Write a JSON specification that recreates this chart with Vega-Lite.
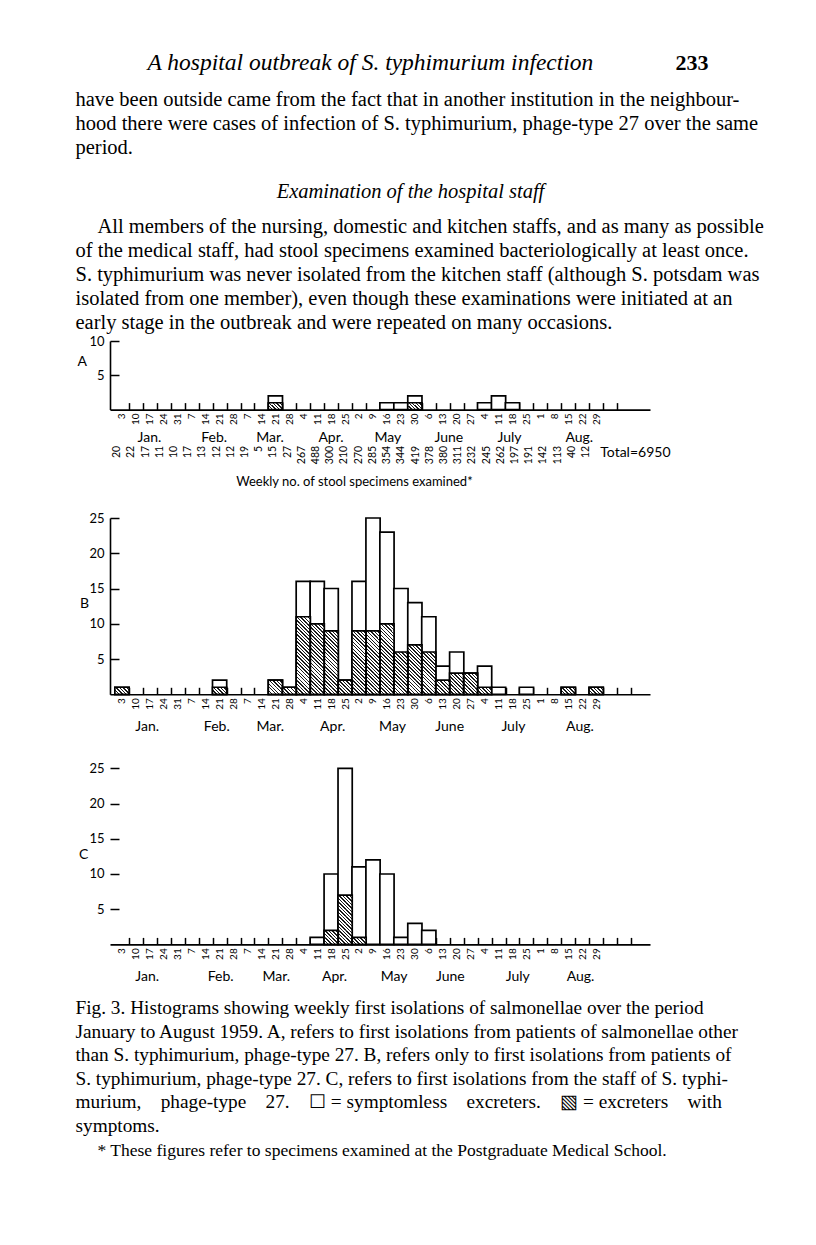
{
"$schema": "https://vega.github.io/schema/vega-lite/v6.json",
"background": "white",
"padding": {"left": 75, "top": 38, "right": 10, "bottom": 10},
"bounds": "flush",
"spacing": 0,
"resolve": {"scale": {"x": "independent", "y": "independent"}},
"config": {
  "view": {"stroke": null},
  "axis": {"labelFont": "Lato", "labelColor": "black", "tickColor": "black", "domainColor": "black", "tickWidth": 1.5, "domainWidth": 1.6, "grid": false, "labelFlush": false, "labelOverlap": false, "titleFont": "Lato", "titleColor": "black", "titleFontWeight": "normal"}
},
"vconcat": [
  {"width": 540, "height": 50,
   "data": {"values": [{"running_head": "A hospital outbreak of S. typhimurium infection", "page": "233"}]},
   "layer": [
     {"mark": {"type": "text", "align": "left", "baseline": "middle", "font": "Liberation Serif", "fontSize": 23.5, "fontStyle": "italic"},
      "encoding": {"x": {"datum": 0.1075, "type": "quantitative", "scale": {"domain": [0, 1], "range": [-34.5, 635.5]}, "axis": null}, "text": {"field": "running_head"}}},
     {"mark": {"type": "text", "align": "right", "baseline": "middle", "font": "Liberation Serif", "fontSize": 22, "fontWeight": "bold"},
      "encoding": {"x": {"datum": 0.9448, "type": "quantitative", "scale": {"domain": [0, 1], "range": [-34.5, 635.5]}, "axis": null}, "text": {"field": "page"}}}
   ]},
  {"width": 540, "height": 72,
   "data": {"values": [
     {"line": 1, "text": "have been outside came from the fact that in another institution in the neighbour-"},
     {"line": 2, "text": "hood there were cases of infection of S. typhimurium, phage-type 27 over the same"},
     {"line": 3, "text": "period."}]},
   "mark": {"type": "text", "align": "left", "baseline": "middle", "font": "Liberation Serif", "fontSize": 20.5},
   "encoding": {"x": {"datum": 0, "type": "quantitative", "scale": {"domain": [0, 1], "range": [-34.5, 635.5]}, "axis": null},
     "y": {"field": "line", "type": "ordinal", "scale": {"type": "point", "padding": 0.5}, "axis": null},
     "text": {"field": "text"}}},
  {"width": 540, "height": 55,
   "data": {"values": [{"text": "Examination of the hospital staff"}]},
   "mark": {"type": "text", "align": "center", "baseline": "middle", "font": "Liberation Serif", "fontSize": 20.5, "fontStyle": "italic"},
   "encoding": {"x": {"datum": 0.5, "type": "quantitative", "scale": {"domain": [0, 1], "range": [-34.5, 635.5]}, "axis": null},
     "y": {"datum": "h", "type": "ordinal", "scale": {"type": "point", "align": 0.582}, "axis": null},
     "text": {"field": "text"}}},
  {"width": 540, "height": 125.7,
   "data": {"values": [
     {"line": 1, "indent": 1, "text": "All members of the nursing, domestic and kitchen staffs, and as many as possible"},
     {"line": 2, "indent": 0, "text": "of the medical staff, had stool specimens examined bacteriologically at least once."},
     {"line": 3, "indent": 0, "text": "S. typhimurium was never isolated from the kitchen staff (although S. potsdam was"},
     {"line": 4, "indent": 0, "text": "isolated from one member), even though these examinations were initiated at an"},
     {"line": 5, "indent": 0, "text": "early stage in the outbreak and were repeated on many occasions."}]},
   "mark": {"type": "text", "align": "left", "baseline": "middle", "font": "Liberation Serif", "fontSize": 20.5},
   "encoding": {"x": {"field": "indent", "type": "quantitative", "scale": {"domain": [0, 1], "range": [-34.5, -12.5]}, "axis": null},
     "y": {"field": "line", "type": "ordinal", "scale": {"type": "point", "padding": 0.619, "align": 0.404}, "axis": null},
     "text": {"field": "text"}}},
  {"width": 540, "height": 68.6,
   "data": {"values": [
     {"week": "Mar 21", "wk": 12, "total": 2, "hatched": 1},
     {"week": "May 16", "wk": 20, "total": 1, "hatched": 0},
     {"week": "May 23", "wk": 21, "total": 1, "hatched": 0},
     {"week": "May 30", "wk": 22, "total": 2, "hatched": 1},
     {"week": "Jul 4", "wk": 27, "total": 1, "hatched": 0},
     {"week": "Jul 11", "wk": 28, "total": 2, "hatched": 0},
     {"week": "Jul 18", "wk": 29, "total": 1, "hatched": 0}]},
   "encoding": {"x": {"field": "wk", "type": "quantitative", "scale": {"domain": [0.5, 38.5], "nice": false, "zero": false}, "axis": null}},
   "layer": [
     {"mark": {"type": "bar", "orient": "vertical", "width": 14.21, "fill": "white", "stroke": "black", "strokeWidth": 1.7},
      "encoding": {
        "x": {"field": "wk", "type": "quantitative", "scale": {"domain": [0.5, 38.5], "nice": false, "zero": false},
          "axis": {"orient": "bottom", "values": [1.5,2.5,3.5,4.5,5.5,6.5,7.5,8.5,9.5,10.5,11.5,12.5,13.5,14.5,15.5,16.5,17.5,18.5,19.5,20.5,21.5,22.5,23.5,24.5,25.5,26.5,27.5,28.5,29.5,30.5,31.5,32.5,33.5,34.5,35.5,36.5],
            "labelExpr": "datum.value < 36 ? '' + date(datetime(1959, 0, 3 + 7 * (datum.value - 1.5))) : ''",
            "labelAngle": 270, "labelAlign": "right", "labelBaseline": "middle", "labelOffset": -7.105, "tickSize": -7, "labelPadding": 10.4, "labelFontSize": 10, "title": null}},
        "y": {"field": "total", "type": "quantitative", "scale": {"domain": [0, 10], "nice": false},
          "axis": {"values": [5, 10], "tickSize": -9, "labelPadding": 15, "labelFontSize": 13, "title": "A", "titleAngle": 0, "titleX": -33, "titleY": 20.3, "titleAlign": "left", "titleBaseline": "middle", "titleFontSize": 14}},
        "y2": {"datum": 0}}},
     {"transform": [{"filter": "datum.hatched >= 1"}], "mark": {"type": "bar", "orient": "vertical", "width": 14.21, "fill": {"gradient": "linear", "x1": 0, "y1": 1, "x2": 1.2007, "y2": 0.4051, "stops": [{"offset": 0, "color": "#1a1a1a"}, {"offset": 0.066, "color": "#1a1a1a"}, {"offset": 0.066, "color": "#ffffff"}, {"offset": 0.1657, "color": "#ffffff"}, {"offset": 0.1657, "color": "#1a1a1a"}, {"offset": 0.2317, "color": "#1a1a1a"}, {"offset": 0.2317, "color": "#ffffff"}, {"offset": 0.3313, "color": "#ffffff"}, {"offset": 0.3313, "color": "#1a1a1a"}, {"offset": 0.3973, "color": "#1a1a1a"}, {"offset": 0.3973, "color": "#ffffff"}, {"offset": 0.497, "color": "#ffffff"}, {"offset": 0.497, "color": "#1a1a1a"}, {"offset": 0.563, "color": "#1a1a1a"}, {"offset": 0.563, "color": "#ffffff"}, {"offset": 0.6626, "color": "#ffffff"}, {"offset": 0.6626, "color": "#1a1a1a"}, {"offset": 0.7286, "color": "#1a1a1a"}, {"offset": 0.7286, "color": "#ffffff"}, {"offset": 0.8283, "color": "#ffffff"}, {"offset": 0.8283, "color": "#1a1a1a"}, {"offset": 0.8943, "color": "#1a1a1a"}, {"offset": 0.8943, "color": "#ffffff"}, {"offset": 0.9939, "color": "#ffffff"}, {"offset": 0.9939, "color": "#1a1a1a"}, {"offset": 1, "color": "#1a1a1a"}]}}, "encoding": {"y": {"datum": 0}, "y2": {"datum": 1}}},
     {"transform": [{"filter": "datum.hatched > 0"}],
      "mark": {"type": "bar", "orient": "vertical", "width": 14.21, "filled": false, "stroke": "black", "strokeWidth": 1.7},
      "encoding": {
        "x": {"field": "wk", "type": "quantitative", "scale": {"domain": [0.5, 38.5], "nice": false, "zero": false},
          "axis": {"orient": "bottom", "values": [2.93, 7.57, 11.58, 15.95, 20.03, 24.4, 28.75, 33.75],
            "labelExpr": "datum.value < 5 ? 'Jan.' : datum.value < 10 ? 'Feb.' : datum.value < 14 ? 'Mar.' : datum.value < 18.5 ? 'Apr.' : datum.value < 22.5 ? 'May' : datum.value < 27 ? 'June' : datum.value < 31.5 ? 'July' : 'Aug.'",
            "ticks": false, "tickSize": 0, "domain": false, "labelPadding": 27.4, "labelAngle": 0, "labelAlign": "center", "labelBaseline": "middle", "labelFontSize": 14, "title": null}},
        "y": {"field": "hatched", "type": "quantitative"},
        "y2": {"datum": 0}}}
   ],
   "resolve": {"axis": {"x": "independent"}}},
  {"width": 540, "height": 107.7,
   "layer": [
     {"data": {"values": [
        {"wk": 1, "specimens": 20}, {"wk": 2, "specimens": 22}, {"wk": 3, "specimens": 17}, {"wk": 4, "specimens": 11},
        {"wk": 5, "specimens": 10}, {"wk": 6, "specimens": 17}, {"wk": 7, "specimens": 13}, {"wk": 8, "specimens": 12},
        {"wk": 9, "specimens": 12}, {"wk": 10, "specimens": 19}, {"wk": 11, "specimens": 5}, {"wk": 12, "specimens": 15},
        {"wk": 13, "specimens": 27}, {"wk": 14, "specimens": 267}, {"wk": 15, "specimens": 488}, {"wk": 16, "specimens": 300},
        {"wk": 17, "specimens": 210}, {"wk": 18, "specimens": 270}, {"wk": 19, "specimens": 285}, {"wk": 20, "specimens": 354},
        {"wk": 21, "specimens": 344}, {"wk": 22, "specimens": 419}, {"wk": 23, "specimens": 378}, {"wk": 24, "specimens": 380},
        {"wk": 25, "specimens": 311}, {"wk": 26, "specimens": 232}, {"wk": 27, "specimens": 245}, {"wk": 28, "specimens": 262},
        {"wk": 29, "specimens": 197}, {"wk": 30, "specimens": 191}, {"wk": 31, "specimens": 142}, {"wk": 32, "specimens": 113},
        {"wk": 33, "specimens": 40}, {"wk": 34, "specimens": 12}]},
      "mark": {"type": "text", "angle": 270, "align": "right", "baseline": "middle", "font": "Lato", "fontSize": 10.5},
      "encoding": {"x": {"field": "wk", "type": "quantitative", "scale": {"domain": [0.5, 38.5], "nice": false, "zero": false}, "axis": null},
        "y": {"datum": "numbers", "type": "ordinal", "scale": {"type": "point", "domain": ["numbers", "label"], "padding": 1, "align": 0.5}, "axis": null},
        "text": {"field": "specimens"}}},
     {"data": {"values": [{"text": "Total=6950"}]},
      "mark": {"type": "text", "align": "left", "baseline": "top", "font": "Lato", "fontSize": 14},
      "encoding": {"x": {"datum": 35, "type": "quantitative", "scale": {"domain": [0.5, 38.5], "nice": false, "zero": false}, "axis": null},
        "y": {"datum": "numbers", "type": "ordinal", "scale": {"type": "point", "domain": ["numbers", "label"], "padding": 1, "align": 0.5}, "axis": null},
        "text": {"field": "text"}}},
     {"data": {"values": [{"text": "Weekly no. of stool specimens examined*"}]},
      "mark": {"type": "text", "align": "center", "baseline": "middle", "font": "Lato", "fontSize": 13},
      "encoding": {"x": {"datum": 17.7, "type": "quantitative", "scale": {"domain": [0.5, 38.5], "nice": false, "zero": false}, "axis": null},
        "y": {"datum": "label", "type": "ordinal", "scale": {"type": "point", "domain": ["numbers", "label"], "padding": 1, "align": 0.5}, "axis": null},
        "text": {"field": "text"}}}
   ]},
  {"width": 540, "height": 176.3,
   "data": {"values": [
     {"week": "Jan 3", "wk": 1, "total": 1, "hatched": 1},
     {"week": "Feb 21", "wk": 8, "total": 2, "hatched": 1},
     {"week": "Mar 21", "wk": 12, "total": 2, "hatched": 2},
     {"week": "Mar 28", "wk": 13, "total": 1, "hatched": 1},
     {"week": "Apr 4", "wk": 14, "total": 16, "hatched": 11},
     {"week": "Apr 11", "wk": 15, "total": 16, "hatched": 10},
     {"week": "Apr 18", "wk": 16, "total": 15, "hatched": 9},
     {"week": "Apr 25", "wk": 17, "total": 2, "hatched": 2},
     {"week": "May 2", "wk": 18, "total": 16, "hatched": 9},
     {"week": "May 9", "wk": 19, "total": 25, "hatched": 9},
     {"week": "May 16", "wk": 20, "total": 23, "hatched": 10},
     {"week": "May 23", "wk": 21, "total": 15, "hatched": 6},
     {"week": "May 30", "wk": 22, "total": 13, "hatched": 7},
     {"week": "Jun 6", "wk": 23, "total": 11, "hatched": 6},
     {"week": "Jun 13", "wk": 24, "total": 4, "hatched": 2},
     {"week": "Jun 20", "wk": 25, "total": 6, "hatched": 3},
     {"week": "Jun 27", "wk": 26, "total": 3, "hatched": 3},
     {"week": "Jul 4", "wk": 27, "total": 4, "hatched": 1},
     {"week": "Jul 11", "wk": 28, "total": 1, "hatched": 0},
     {"week": "Jul 25", "wk": 30, "total": 1, "hatched": 0},
     {"week": "Aug 15", "wk": 33, "total": 1, "hatched": 1},
     {"week": "Aug 29", "wk": 35, "total": 1, "hatched": 1}]},
   "encoding": {"x": {"field": "wk", "type": "quantitative", "scale": {"domain": [0.5, 38.5], "nice": false, "zero": false}, "axis": null}},
   "layer": [
     {"mark": {"type": "bar", "orient": "vertical", "width": 14.21, "fill": "white", "stroke": "black", "strokeWidth": 1.7},
      "encoding": {
        "x": {"field": "wk", "type": "quantitative", "scale": {"domain": [0.5, 38.5], "nice": false, "zero": false},
          "axis": {"orient": "bottom", "values": [1.5,2.5,3.5,4.5,5.5,6.5,7.5,8.5,9.5,10.5,11.5,12.5,13.5,14.5,15.5,16.5,17.5,18.5,19.5,20.5,21.5,22.5,23.5,24.5,25.5,26.5,27.5,28.5,29.5,30.5,31.5,32.5,33.5,34.5,35.5,36.5,37.5],
            "labelExpr": "datum.value < 36 ? '' + date(datetime(1959, 0, 3 + 7 * (datum.value - 1.5))) : ''",
            "labelAngle": 270, "labelAlign": "right", "labelBaseline": "middle", "labelOffset": -7.105, "tickSize": -7, "labelPadding": 10.4, "labelFontSize": 10, "title": null}},
        "y": {"field": "total", "type": "quantitative", "scale": {"domain": [0, 25], "nice": false},
          "axis": {"values": [5, 10, 15, 20, 25], "tickSize": -9, "labelPadding": 15, "labelFontSize": 13, "title": "B", "titleAngle": 0, "titleX": -30.5, "titleY": 85, "titleAlign": "left", "titleBaseline": "middle", "titleFontSize": 14}},
        "y2": {"datum": 0}}},
     {"transform": [{"filter": "datum.hatched >= 1"}], "mark": {"type": "bar", "orient": "vertical", "width": 14.21, "fill": {"gradient": "linear", "x1": 0, "y1": 1, "x2": 1.2007, "y2": 0.4051, "stops": [{"offset": 0, "color": "#1a1a1a"}, {"offset": 0.066, "color": "#1a1a1a"}, {"offset": 0.066, "color": "#ffffff"}, {"offset": 0.1657, "color": "#ffffff"}, {"offset": 0.1657, "color": "#1a1a1a"}, {"offset": 0.2317, "color": "#1a1a1a"}, {"offset": 0.2317, "color": "#ffffff"}, {"offset": 0.3313, "color": "#ffffff"}, {"offset": 0.3313, "color": "#1a1a1a"}, {"offset": 0.3973, "color": "#1a1a1a"}, {"offset": 0.3973, "color": "#ffffff"}, {"offset": 0.497, "color": "#ffffff"}, {"offset": 0.497, "color": "#1a1a1a"}, {"offset": 0.563, "color": "#1a1a1a"}, {"offset": 0.563, "color": "#ffffff"}, {"offset": 0.6626, "color": "#ffffff"}, {"offset": 0.6626, "color": "#1a1a1a"}, {"offset": 0.7286, "color": "#1a1a1a"}, {"offset": 0.7286, "color": "#ffffff"}, {"offset": 0.8283, "color": "#ffffff"}, {"offset": 0.8283, "color": "#1a1a1a"}, {"offset": 0.8943, "color": "#1a1a1a"}, {"offset": 0.8943, "color": "#ffffff"}, {"offset": 0.9939, "color": "#ffffff"}, {"offset": 0.9939, "color": "#1a1a1a"}, {"offset": 1, "color": "#1a1a1a"}]}}, "encoding": {"y": {"datum": 0}, "y2": {"datum": 1}}},
     {"transform": [{"filter": "datum.hatched >= 2"}], "mark": {"type": "bar", "orient": "vertical", "width": 14.21, "fill": {"gradient": "linear", "x1": 0, "y1": 1, "x2": 1.2007, "y2": 0.4051, "stops": [{"offset": 0, "color": "#1a1a1a"}, {"offset": 0.066, "color": "#1a1a1a"}, {"offset": 0.066, "color": "#ffffff"}, {"offset": 0.1657, "color": "#ffffff"}, {"offset": 0.1657, "color": "#1a1a1a"}, {"offset": 0.2317, "color": "#1a1a1a"}, {"offset": 0.2317, "color": "#ffffff"}, {"offset": 0.3313, "color": "#ffffff"}, {"offset": 0.3313, "color": "#1a1a1a"}, {"offset": 0.3973, "color": "#1a1a1a"}, {"offset": 0.3973, "color": "#ffffff"}, {"offset": 0.497, "color": "#ffffff"}, {"offset": 0.497, "color": "#1a1a1a"}, {"offset": 0.563, "color": "#1a1a1a"}, {"offset": 0.563, "color": "#ffffff"}, {"offset": 0.6626, "color": "#ffffff"}, {"offset": 0.6626, "color": "#1a1a1a"}, {"offset": 0.7286, "color": "#1a1a1a"}, {"offset": 0.7286, "color": "#ffffff"}, {"offset": 0.8283, "color": "#ffffff"}, {"offset": 0.8283, "color": "#1a1a1a"}, {"offset": 0.8943, "color": "#1a1a1a"}, {"offset": 0.8943, "color": "#ffffff"}, {"offset": 0.9939, "color": "#ffffff"}, {"offset": 0.9939, "color": "#1a1a1a"}, {"offset": 1, "color": "#1a1a1a"}]}}, "encoding": {"y": {"datum": 1}, "y2": {"datum": 2}}},
     {"transform": [{"filter": "datum.hatched >= 3"}], "mark": {"type": "bar", "orient": "vertical", "width": 14.21, "fill": {"gradient": "linear", "x1": 0, "y1": 1, "x2": 1.2007, "y2": 0.4051, "stops": [{"offset": 0, "color": "#1a1a1a"}, {"offset": 0.066, "color": "#1a1a1a"}, {"offset": 0.066, "color": "#ffffff"}, {"offset": 0.1657, "color": "#ffffff"}, {"offset": 0.1657, "color": "#1a1a1a"}, {"offset": 0.2317, "color": "#1a1a1a"}, {"offset": 0.2317, "color": "#ffffff"}, {"offset": 0.3313, "color": "#ffffff"}, {"offset": 0.3313, "color": "#1a1a1a"}, {"offset": 0.3973, "color": "#1a1a1a"}, {"offset": 0.3973, "color": "#ffffff"}, {"offset": 0.497, "color": "#ffffff"}, {"offset": 0.497, "color": "#1a1a1a"}, {"offset": 0.563, "color": "#1a1a1a"}, {"offset": 0.563, "color": "#ffffff"}, {"offset": 0.6626, "color": "#ffffff"}, {"offset": 0.6626, "color": "#1a1a1a"}, {"offset": 0.7286, "color": "#1a1a1a"}, {"offset": 0.7286, "color": "#ffffff"}, {"offset": 0.8283, "color": "#ffffff"}, {"offset": 0.8283, "color": "#1a1a1a"}, {"offset": 0.8943, "color": "#1a1a1a"}, {"offset": 0.8943, "color": "#ffffff"}, {"offset": 0.9939, "color": "#ffffff"}, {"offset": 0.9939, "color": "#1a1a1a"}, {"offset": 1, "color": "#1a1a1a"}]}}, "encoding": {"y": {"datum": 2}, "y2": {"datum": 3}}},
     {"transform": [{"filter": "datum.hatched >= 4"}], "mark": {"type": "bar", "orient": "vertical", "width": 14.21, "fill": {"gradient": "linear", "x1": 0, "y1": 1, "x2": 1.2007, "y2": 0.4051, "stops": [{"offset": 0, "color": "#1a1a1a"}, {"offset": 0.066, "color": "#1a1a1a"}, {"offset": 0.066, "color": "#ffffff"}, {"offset": 0.1657, "color": "#ffffff"}, {"offset": 0.1657, "color": "#1a1a1a"}, {"offset": 0.2317, "color": "#1a1a1a"}, {"offset": 0.2317, "color": "#ffffff"}, {"offset": 0.3313, "color": "#ffffff"}, {"offset": 0.3313, "color": "#1a1a1a"}, {"offset": 0.3973, "color": "#1a1a1a"}, {"offset": 0.3973, "color": "#ffffff"}, {"offset": 0.497, "color": "#ffffff"}, {"offset": 0.497, "color": "#1a1a1a"}, {"offset": 0.563, "color": "#1a1a1a"}, {"offset": 0.563, "color": "#ffffff"}, {"offset": 0.6626, "color": "#ffffff"}, {"offset": 0.6626, "color": "#1a1a1a"}, {"offset": 0.7286, "color": "#1a1a1a"}, {"offset": 0.7286, "color": "#ffffff"}, {"offset": 0.8283, "color": "#ffffff"}, {"offset": 0.8283, "color": "#1a1a1a"}, {"offset": 0.8943, "color": "#1a1a1a"}, {"offset": 0.8943, "color": "#ffffff"}, {"offset": 0.9939, "color": "#ffffff"}, {"offset": 0.9939, "color": "#1a1a1a"}, {"offset": 1, "color": "#1a1a1a"}]}}, "encoding": {"y": {"datum": 3}, "y2": {"datum": 4}}},
     {"transform": [{"filter": "datum.hatched >= 5"}], "mark": {"type": "bar", "orient": "vertical", "width": 14.21, "fill": {"gradient": "linear", "x1": 0, "y1": 1, "x2": 1.2007, "y2": 0.4051, "stops": [{"offset": 0, "color": "#1a1a1a"}, {"offset": 0.066, "color": "#1a1a1a"}, {"offset": 0.066, "color": "#ffffff"}, {"offset": 0.1657, "color": "#ffffff"}, {"offset": 0.1657, "color": "#1a1a1a"}, {"offset": 0.2317, "color": "#1a1a1a"}, {"offset": 0.2317, "color": "#ffffff"}, {"offset": 0.3313, "color": "#ffffff"}, {"offset": 0.3313, "color": "#1a1a1a"}, {"offset": 0.3973, "color": "#1a1a1a"}, {"offset": 0.3973, "color": "#ffffff"}, {"offset": 0.497, "color": "#ffffff"}, {"offset": 0.497, "color": "#1a1a1a"}, {"offset": 0.563, "color": "#1a1a1a"}, {"offset": 0.563, "color": "#ffffff"}, {"offset": 0.6626, "color": "#ffffff"}, {"offset": 0.6626, "color": "#1a1a1a"}, {"offset": 0.7286, "color": "#1a1a1a"}, {"offset": 0.7286, "color": "#ffffff"}, {"offset": 0.8283, "color": "#ffffff"}, {"offset": 0.8283, "color": "#1a1a1a"}, {"offset": 0.8943, "color": "#1a1a1a"}, {"offset": 0.8943, "color": "#ffffff"}, {"offset": 0.9939, "color": "#ffffff"}, {"offset": 0.9939, "color": "#1a1a1a"}, {"offset": 1, "color": "#1a1a1a"}]}}, "encoding": {"y": {"datum": 4}, "y2": {"datum": 5}}},
     {"transform": [{"filter": "datum.hatched >= 6"}], "mark": {"type": "bar", "orient": "vertical", "width": 14.21, "fill": {"gradient": "linear", "x1": 0, "y1": 1, "x2": 1.2007, "y2": 0.4051, "stops": [{"offset": 0, "color": "#1a1a1a"}, {"offset": 0.066, "color": "#1a1a1a"}, {"offset": 0.066, "color": "#ffffff"}, {"offset": 0.1657, "color": "#ffffff"}, {"offset": 0.1657, "color": "#1a1a1a"}, {"offset": 0.2317, "color": "#1a1a1a"}, {"offset": 0.2317, "color": "#ffffff"}, {"offset": 0.3313, "color": "#ffffff"}, {"offset": 0.3313, "color": "#1a1a1a"}, {"offset": 0.3973, "color": "#1a1a1a"}, {"offset": 0.3973, "color": "#ffffff"}, {"offset": 0.497, "color": "#ffffff"}, {"offset": 0.497, "color": "#1a1a1a"}, {"offset": 0.563, "color": "#1a1a1a"}, {"offset": 0.563, "color": "#ffffff"}, {"offset": 0.6626, "color": "#ffffff"}, {"offset": 0.6626, "color": "#1a1a1a"}, {"offset": 0.7286, "color": "#1a1a1a"}, {"offset": 0.7286, "color": "#ffffff"}, {"offset": 0.8283, "color": "#ffffff"}, {"offset": 0.8283, "color": "#1a1a1a"}, {"offset": 0.8943, "color": "#1a1a1a"}, {"offset": 0.8943, "color": "#ffffff"}, {"offset": 0.9939, "color": "#ffffff"}, {"offset": 0.9939, "color": "#1a1a1a"}, {"offset": 1, "color": "#1a1a1a"}]}}, "encoding": {"y": {"datum": 5}, "y2": {"datum": 6}}},
     {"transform": [{"filter": "datum.hatched >= 7"}], "mark": {"type": "bar", "orient": "vertical", "width": 14.21, "fill": {"gradient": "linear", "x1": 0, "y1": 1, "x2": 1.2007, "y2": 0.4051, "stops": [{"offset": 0, "color": "#1a1a1a"}, {"offset": 0.066, "color": "#1a1a1a"}, {"offset": 0.066, "color": "#ffffff"}, {"offset": 0.1657, "color": "#ffffff"}, {"offset": 0.1657, "color": "#1a1a1a"}, {"offset": 0.2317, "color": "#1a1a1a"}, {"offset": 0.2317, "color": "#ffffff"}, {"offset": 0.3313, "color": "#ffffff"}, {"offset": 0.3313, "color": "#1a1a1a"}, {"offset": 0.3973, "color": "#1a1a1a"}, {"offset": 0.3973, "color": "#ffffff"}, {"offset": 0.497, "color": "#ffffff"}, {"offset": 0.497, "color": "#1a1a1a"}, {"offset": 0.563, "color": "#1a1a1a"}, {"offset": 0.563, "color": "#ffffff"}, {"offset": 0.6626, "color": "#ffffff"}, {"offset": 0.6626, "color": "#1a1a1a"}, {"offset": 0.7286, "color": "#1a1a1a"}, {"offset": 0.7286, "color": "#ffffff"}, {"offset": 0.8283, "color": "#ffffff"}, {"offset": 0.8283, "color": "#1a1a1a"}, {"offset": 0.8943, "color": "#1a1a1a"}, {"offset": 0.8943, "color": "#ffffff"}, {"offset": 0.9939, "color": "#ffffff"}, {"offset": 0.9939, "color": "#1a1a1a"}, {"offset": 1, "color": "#1a1a1a"}]}}, "encoding": {"y": {"datum": 6}, "y2": {"datum": 7}}},
     {"transform": [{"filter": "datum.hatched >= 8"}], "mark": {"type": "bar", "orient": "vertical", "width": 14.21, "fill": {"gradient": "linear", "x1": 0, "y1": 1, "x2": 1.2007, "y2": 0.4051, "stops": [{"offset": 0, "color": "#1a1a1a"}, {"offset": 0.066, "color": "#1a1a1a"}, {"offset": 0.066, "color": "#ffffff"}, {"offset": 0.1657, "color": "#ffffff"}, {"offset": 0.1657, "color": "#1a1a1a"}, {"offset": 0.2317, "color": "#1a1a1a"}, {"offset": 0.2317, "color": "#ffffff"}, {"offset": 0.3313, "color": "#ffffff"}, {"offset": 0.3313, "color": "#1a1a1a"}, {"offset": 0.3973, "color": "#1a1a1a"}, {"offset": 0.3973, "color": "#ffffff"}, {"offset": 0.497, "color": "#ffffff"}, {"offset": 0.497, "color": "#1a1a1a"}, {"offset": 0.563, "color": "#1a1a1a"}, {"offset": 0.563, "color": "#ffffff"}, {"offset": 0.6626, "color": "#ffffff"}, {"offset": 0.6626, "color": "#1a1a1a"}, {"offset": 0.7286, "color": "#1a1a1a"}, {"offset": 0.7286, "color": "#ffffff"}, {"offset": 0.8283, "color": "#ffffff"}, {"offset": 0.8283, "color": "#1a1a1a"}, {"offset": 0.8943, "color": "#1a1a1a"}, {"offset": 0.8943, "color": "#ffffff"}, {"offset": 0.9939, "color": "#ffffff"}, {"offset": 0.9939, "color": "#1a1a1a"}, {"offset": 1, "color": "#1a1a1a"}]}}, "encoding": {"y": {"datum": 7}, "y2": {"datum": 8}}},
     {"transform": [{"filter": "datum.hatched >= 9"}], "mark": {"type": "bar", "orient": "vertical", "width": 14.21, "fill": {"gradient": "linear", "x1": 0, "y1": 1, "x2": 1.2007, "y2": 0.4051, "stops": [{"offset": 0, "color": "#1a1a1a"}, {"offset": 0.066, "color": "#1a1a1a"}, {"offset": 0.066, "color": "#ffffff"}, {"offset": 0.1657, "color": "#ffffff"}, {"offset": 0.1657, "color": "#1a1a1a"}, {"offset": 0.2317, "color": "#1a1a1a"}, {"offset": 0.2317, "color": "#ffffff"}, {"offset": 0.3313, "color": "#ffffff"}, {"offset": 0.3313, "color": "#1a1a1a"}, {"offset": 0.3973, "color": "#1a1a1a"}, {"offset": 0.3973, "color": "#ffffff"}, {"offset": 0.497, "color": "#ffffff"}, {"offset": 0.497, "color": "#1a1a1a"}, {"offset": 0.563, "color": "#1a1a1a"}, {"offset": 0.563, "color": "#ffffff"}, {"offset": 0.6626, "color": "#ffffff"}, {"offset": 0.6626, "color": "#1a1a1a"}, {"offset": 0.7286, "color": "#1a1a1a"}, {"offset": 0.7286, "color": "#ffffff"}, {"offset": 0.8283, "color": "#ffffff"}, {"offset": 0.8283, "color": "#1a1a1a"}, {"offset": 0.8943, "color": "#1a1a1a"}, {"offset": 0.8943, "color": "#ffffff"}, {"offset": 0.9939, "color": "#ffffff"}, {"offset": 0.9939, "color": "#1a1a1a"}, {"offset": 1, "color": "#1a1a1a"}]}}, "encoding": {"y": {"datum": 8}, "y2": {"datum": 9}}},
     {"transform": [{"filter": "datum.hatched >= 10"}], "mark": {"type": "bar", "orient": "vertical", "width": 14.21, "fill": {"gradient": "linear", "x1": 0, "y1": 1, "x2": 1.2007, "y2": 0.4051, "stops": [{"offset": 0, "color": "#1a1a1a"}, {"offset": 0.066, "color": "#1a1a1a"}, {"offset": 0.066, "color": "#ffffff"}, {"offset": 0.1657, "color": "#ffffff"}, {"offset": 0.1657, "color": "#1a1a1a"}, {"offset": 0.2317, "color": "#1a1a1a"}, {"offset": 0.2317, "color": "#ffffff"}, {"offset": 0.3313, "color": "#ffffff"}, {"offset": 0.3313, "color": "#1a1a1a"}, {"offset": 0.3973, "color": "#1a1a1a"}, {"offset": 0.3973, "color": "#ffffff"}, {"offset": 0.497, "color": "#ffffff"}, {"offset": 0.497, "color": "#1a1a1a"}, {"offset": 0.563, "color": "#1a1a1a"}, {"offset": 0.563, "color": "#ffffff"}, {"offset": 0.6626, "color": "#ffffff"}, {"offset": 0.6626, "color": "#1a1a1a"}, {"offset": 0.7286, "color": "#1a1a1a"}, {"offset": 0.7286, "color": "#ffffff"}, {"offset": 0.8283, "color": "#ffffff"}, {"offset": 0.8283, "color": "#1a1a1a"}, {"offset": 0.8943, "color": "#1a1a1a"}, {"offset": 0.8943, "color": "#ffffff"}, {"offset": 0.9939, "color": "#ffffff"}, {"offset": 0.9939, "color": "#1a1a1a"}, {"offset": 1, "color": "#1a1a1a"}]}}, "encoding": {"y": {"datum": 9}, "y2": {"datum": 10}}},
     {"transform": [{"filter": "datum.hatched >= 11"}], "mark": {"type": "bar", "orient": "vertical", "width": 14.21, "fill": {"gradient": "linear", "x1": 0, "y1": 1, "x2": 1.2007, "y2": 0.4051, "stops": [{"offset": 0, "color": "#1a1a1a"}, {"offset": 0.066, "color": "#1a1a1a"}, {"offset": 0.066, "color": "#ffffff"}, {"offset": 0.1657, "color": "#ffffff"}, {"offset": 0.1657, "color": "#1a1a1a"}, {"offset": 0.2317, "color": "#1a1a1a"}, {"offset": 0.2317, "color": "#ffffff"}, {"offset": 0.3313, "color": "#ffffff"}, {"offset": 0.3313, "color": "#1a1a1a"}, {"offset": 0.3973, "color": "#1a1a1a"}, {"offset": 0.3973, "color": "#ffffff"}, {"offset": 0.497, "color": "#ffffff"}, {"offset": 0.497, "color": "#1a1a1a"}, {"offset": 0.563, "color": "#1a1a1a"}, {"offset": 0.563, "color": "#ffffff"}, {"offset": 0.6626, "color": "#ffffff"}, {"offset": 0.6626, "color": "#1a1a1a"}, {"offset": 0.7286, "color": "#1a1a1a"}, {"offset": 0.7286, "color": "#ffffff"}, {"offset": 0.8283, "color": "#ffffff"}, {"offset": 0.8283, "color": "#1a1a1a"}, {"offset": 0.8943, "color": "#1a1a1a"}, {"offset": 0.8943, "color": "#ffffff"}, {"offset": 0.9939, "color": "#ffffff"}, {"offset": 0.9939, "color": "#1a1a1a"}, {"offset": 1, "color": "#1a1a1a"}]}}, "encoding": {"y": {"datum": 10}, "y2": {"datum": 11}}},
     {"transform": [{"filter": "datum.hatched > 0"}],
      "mark": {"type": "bar", "orient": "vertical", "width": 14.21, "filled": false, "stroke": "black", "strokeWidth": 1.7},
      "encoding": {
        "x": {"field": "wk", "type": "quantitative", "scale": {"domain": [0.5, 38.5], "nice": false, "zero": false},
          "axis": {"orient": "bottom", "values": [2.77, 7.76, 11.6, 16.07, 20.36, 24.46, 29.03, 33.8],
            "labelExpr": "datum.value < 5 ? 'Jan.' : datum.value < 10 ? 'Feb.' : datum.value < 14 ? 'Mar.' : datum.value < 18.5 ? 'Apr.' : datum.value < 22.5 ? 'May' : datum.value < 27 ? 'June' : datum.value < 31.5 ? 'July' : 'Aug.'",
            "ticks": false, "tickSize": 0, "domain": false, "labelPadding": 32.5, "labelAngle": 0, "labelAlign": "center", "labelBaseline": "middle", "labelFontSize": 14, "title": null}},
        "y": {"field": "hatched", "type": "quantitative"},
        "y2": {"datum": 0}}}
   ],
   "resolve": {"axis": {"x": "independent"}}},
  {"width": 540, "height": 249.4,
   "data": {"values": [
     {"week": "Apr 11", "wk": 15, "total": 1, "hatched": 0},
     {"week": "Apr 18", "wk": 16, "total": 10, "hatched": 2},
     {"week": "Apr 25", "wk": 17, "total": 25, "hatched": 7},
     {"week": "May 2", "wk": 18, "total": 11, "hatched": 1},
     {"week": "May 9", "wk": 19, "total": 12, "hatched": 0},
     {"week": "May 16", "wk": 20, "total": 10, "hatched": 0},
     {"week": "May 23", "wk": 21, "total": 1, "hatched": 0},
     {"week": "May 30", "wk": 22, "total": 3, "hatched": 0},
     {"week": "Jun 6", "wk": 23, "total": 2, "hatched": 0}]},
   "encoding": {"x": {"field": "wk", "type": "quantitative", "scale": {"domain": [0.5, 38.5], "nice": false, "zero": false}, "axis": null}},
   "layer": [
     {"mark": {"type": "bar", "orient": "vertical", "width": 14.21, "fill": "white", "stroke": "black", "strokeWidth": 1.7},
      "encoding": {
        "x": {"field": "wk", "type": "quantitative", "scale": {"domain": [0.5, 38.5], "nice": false, "zero": false},
          "axis": {"orient": "bottom", "values": [1.5,2.5,3.5,4.5,5.5,6.5,7.5,8.5,9.5,10.5,11.5,12.5,13.5,14.5,15.5,16.5,17.5,18.5,19.5,20.5,21.5,22.5,23.5,24.5,25.5,26.5,27.5,28.5,29.5,30.5,31.5,32.5,33.5,34.5,35.5,36.5,37.5],
            "labelExpr": "datum.value < 36 ? '' + date(datetime(1959, 0, 3 + 7 * (datum.value - 1.5))) : ''",
            "labelAngle": 270, "labelAlign": "right", "labelBaseline": "middle", "labelOffset": -7.105, "tickSize": -7, "labelPadding": 10.4, "labelFontSize": 10, "title": null}},
        "y": {"field": "total", "type": "quantitative", "scale": {"domain": [0, 35.426], "nice": false},
          "axis": {"values": [5, 10, 15, 20, 25], "domain": false, "tickSize": -9, "labelPadding": 15, "labelFontSize": 13, "title": "C", "titleAngle": 0, "titleX": -31.5, "titleY": 159, "titleAlign": "left", "titleBaseline": "middle", "titleFontSize": 14}},
        "y2": {"datum": 0}}},
     {"data": {"values": [{"line": "y axis"}]},
      "mark": {"type": "rule", "stroke": "black", "strokeWidth": 1.6},
      "encoding": {"x": {"datum": 0.5, "type": "quantitative", "scale": {"domain": [0.5, 38.5], "nice": false, "zero": false}, "axis": null}, "y": {"datum": 0}, "y2": {"datum": 25}}},
     {"transform": [{"filter": "datum.hatched >= 1"}], "mark": {"type": "bar", "orient": "vertical", "width": 14.21, "fill": {"gradient": "linear", "x1": 0, "y1": 1, "x2": 1.2007, "y2": 0.4051, "stops": [{"offset": 0, "color": "#1a1a1a"}, {"offset": 0.066, "color": "#1a1a1a"}, {"offset": 0.066, "color": "#ffffff"}, {"offset": 0.1657, "color": "#ffffff"}, {"offset": 0.1657, "color": "#1a1a1a"}, {"offset": 0.2317, "color": "#1a1a1a"}, {"offset": 0.2317, "color": "#ffffff"}, {"offset": 0.3313, "color": "#ffffff"}, {"offset": 0.3313, "color": "#1a1a1a"}, {"offset": 0.3973, "color": "#1a1a1a"}, {"offset": 0.3973, "color": "#ffffff"}, {"offset": 0.497, "color": "#ffffff"}, {"offset": 0.497, "color": "#1a1a1a"}, {"offset": 0.563, "color": "#1a1a1a"}, {"offset": 0.563, "color": "#ffffff"}, {"offset": 0.6626, "color": "#ffffff"}, {"offset": 0.6626, "color": "#1a1a1a"}, {"offset": 0.7286, "color": "#1a1a1a"}, {"offset": 0.7286, "color": "#ffffff"}, {"offset": 0.8283, "color": "#ffffff"}, {"offset": 0.8283, "color": "#1a1a1a"}, {"offset": 0.8943, "color": "#1a1a1a"}, {"offset": 0.8943, "color": "#ffffff"}, {"offset": 0.9939, "color": "#ffffff"}, {"offset": 0.9939, "color": "#1a1a1a"}, {"offset": 1, "color": "#1a1a1a"}]}}, "encoding": {"y": {"datum": 0}, "y2": {"datum": 1}}},
     {"transform": [{"filter": "datum.hatched >= 2"}], "mark": {"type": "bar", "orient": "vertical", "width": 14.21, "fill": {"gradient": "linear", "x1": 0, "y1": 1, "x2": 1.2007, "y2": 0.4051, "stops": [{"offset": 0, "color": "#1a1a1a"}, {"offset": 0.066, "color": "#1a1a1a"}, {"offset": 0.066, "color": "#ffffff"}, {"offset": 0.1657, "color": "#ffffff"}, {"offset": 0.1657, "color": "#1a1a1a"}, {"offset": 0.2317, "color": "#1a1a1a"}, {"offset": 0.2317, "color": "#ffffff"}, {"offset": 0.3313, "color": "#ffffff"}, {"offset": 0.3313, "color": "#1a1a1a"}, {"offset": 0.3973, "color": "#1a1a1a"}, {"offset": 0.3973, "color": "#ffffff"}, {"offset": 0.497, "color": "#ffffff"}, {"offset": 0.497, "color": "#1a1a1a"}, {"offset": 0.563, "color": "#1a1a1a"}, {"offset": 0.563, "color": "#ffffff"}, {"offset": 0.6626, "color": "#ffffff"}, {"offset": 0.6626, "color": "#1a1a1a"}, {"offset": 0.7286, "color": "#1a1a1a"}, {"offset": 0.7286, "color": "#ffffff"}, {"offset": 0.8283, "color": "#ffffff"}, {"offset": 0.8283, "color": "#1a1a1a"}, {"offset": 0.8943, "color": "#1a1a1a"}, {"offset": 0.8943, "color": "#ffffff"}, {"offset": 0.9939, "color": "#ffffff"}, {"offset": 0.9939, "color": "#1a1a1a"}, {"offset": 1, "color": "#1a1a1a"}]}}, "encoding": {"y": {"datum": 1}, "y2": {"datum": 2}}},
     {"transform": [{"filter": "datum.hatched >= 3"}], "mark": {"type": "bar", "orient": "vertical", "width": 14.21, "fill": {"gradient": "linear", "x1": 0, "y1": 1, "x2": 1.2007, "y2": 0.4051, "stops": [{"offset": 0, "color": "#1a1a1a"}, {"offset": 0.066, "color": "#1a1a1a"}, {"offset": 0.066, "color": "#ffffff"}, {"offset": 0.1657, "color": "#ffffff"}, {"offset": 0.1657, "color": "#1a1a1a"}, {"offset": 0.2317, "color": "#1a1a1a"}, {"offset": 0.2317, "color": "#ffffff"}, {"offset": 0.3313, "color": "#ffffff"}, {"offset": 0.3313, "color": "#1a1a1a"}, {"offset": 0.3973, "color": "#1a1a1a"}, {"offset": 0.3973, "color": "#ffffff"}, {"offset": 0.497, "color": "#ffffff"}, {"offset": 0.497, "color": "#1a1a1a"}, {"offset": 0.563, "color": "#1a1a1a"}, {"offset": 0.563, "color": "#ffffff"}, {"offset": 0.6626, "color": "#ffffff"}, {"offset": 0.6626, "color": "#1a1a1a"}, {"offset": 0.7286, "color": "#1a1a1a"}, {"offset": 0.7286, "color": "#ffffff"}, {"offset": 0.8283, "color": "#ffffff"}, {"offset": 0.8283, "color": "#1a1a1a"}, {"offset": 0.8943, "color": "#1a1a1a"}, {"offset": 0.8943, "color": "#ffffff"}, {"offset": 0.9939, "color": "#ffffff"}, {"offset": 0.9939, "color": "#1a1a1a"}, {"offset": 1, "color": "#1a1a1a"}]}}, "encoding": {"y": {"datum": 2}, "y2": {"datum": 3}}},
     {"transform": [{"filter": "datum.hatched >= 4"}], "mark": {"type": "bar", "orient": "vertical", "width": 14.21, "fill": {"gradient": "linear", "x1": 0, "y1": 1, "x2": 1.2007, "y2": 0.4051, "stops": [{"offset": 0, "color": "#1a1a1a"}, {"offset": 0.066, "color": "#1a1a1a"}, {"offset": 0.066, "color": "#ffffff"}, {"offset": 0.1657, "color": "#ffffff"}, {"offset": 0.1657, "color": "#1a1a1a"}, {"offset": 0.2317, "color": "#1a1a1a"}, {"offset": 0.2317, "color": "#ffffff"}, {"offset": 0.3313, "color": "#ffffff"}, {"offset": 0.3313, "color": "#1a1a1a"}, {"offset": 0.3973, "color": "#1a1a1a"}, {"offset": 0.3973, "color": "#ffffff"}, {"offset": 0.497, "color": "#ffffff"}, {"offset": 0.497, "color": "#1a1a1a"}, {"offset": 0.563, "color": "#1a1a1a"}, {"offset": 0.563, "color": "#ffffff"}, {"offset": 0.6626, "color": "#ffffff"}, {"offset": 0.6626, "color": "#1a1a1a"}, {"offset": 0.7286, "color": "#1a1a1a"}, {"offset": 0.7286, "color": "#ffffff"}, {"offset": 0.8283, "color": "#ffffff"}, {"offset": 0.8283, "color": "#1a1a1a"}, {"offset": 0.8943, "color": "#1a1a1a"}, {"offset": 0.8943, "color": "#ffffff"}, {"offset": 0.9939, "color": "#ffffff"}, {"offset": 0.9939, "color": "#1a1a1a"}, {"offset": 1, "color": "#1a1a1a"}]}}, "encoding": {"y": {"datum": 3}, "y2": {"datum": 4}}},
     {"transform": [{"filter": "datum.hatched >= 5"}], "mark": {"type": "bar", "orient": "vertical", "width": 14.21, "fill": {"gradient": "linear", "x1": 0, "y1": 1, "x2": 1.2007, "y2": 0.4051, "stops": [{"offset": 0, "color": "#1a1a1a"}, {"offset": 0.066, "color": "#1a1a1a"}, {"offset": 0.066, "color": "#ffffff"}, {"offset": 0.1657, "color": "#ffffff"}, {"offset": 0.1657, "color": "#1a1a1a"}, {"offset": 0.2317, "color": "#1a1a1a"}, {"offset": 0.2317, "color": "#ffffff"}, {"offset": 0.3313, "color": "#ffffff"}, {"offset": 0.3313, "color": "#1a1a1a"}, {"offset": 0.3973, "color": "#1a1a1a"}, {"offset": 0.3973, "color": "#ffffff"}, {"offset": 0.497, "color": "#ffffff"}, {"offset": 0.497, "color": "#1a1a1a"}, {"offset": 0.563, "color": "#1a1a1a"}, {"offset": 0.563, "color": "#ffffff"}, {"offset": 0.6626, "color": "#ffffff"}, {"offset": 0.6626, "color": "#1a1a1a"}, {"offset": 0.7286, "color": "#1a1a1a"}, {"offset": 0.7286, "color": "#ffffff"}, {"offset": 0.8283, "color": "#ffffff"}, {"offset": 0.8283, "color": "#1a1a1a"}, {"offset": 0.8943, "color": "#1a1a1a"}, {"offset": 0.8943, "color": "#ffffff"}, {"offset": 0.9939, "color": "#ffffff"}, {"offset": 0.9939, "color": "#1a1a1a"}, {"offset": 1, "color": "#1a1a1a"}]}}, "encoding": {"y": {"datum": 4}, "y2": {"datum": 5}}},
     {"transform": [{"filter": "datum.hatched >= 6"}], "mark": {"type": "bar", "orient": "vertical", "width": 14.21, "fill": {"gradient": "linear", "x1": 0, "y1": 1, "x2": 1.2007, "y2": 0.4051, "stops": [{"offset": 0, "color": "#1a1a1a"}, {"offset": 0.066, "color": "#1a1a1a"}, {"offset": 0.066, "color": "#ffffff"}, {"offset": 0.1657, "color": "#ffffff"}, {"offset": 0.1657, "color": "#1a1a1a"}, {"offset": 0.2317, "color": "#1a1a1a"}, {"offset": 0.2317, "color": "#ffffff"}, {"offset": 0.3313, "color": "#ffffff"}, {"offset": 0.3313, "color": "#1a1a1a"}, {"offset": 0.3973, "color": "#1a1a1a"}, {"offset": 0.3973, "color": "#ffffff"}, {"offset": 0.497, "color": "#ffffff"}, {"offset": 0.497, "color": "#1a1a1a"}, {"offset": 0.563, "color": "#1a1a1a"}, {"offset": 0.563, "color": "#ffffff"}, {"offset": 0.6626, "color": "#ffffff"}, {"offset": 0.6626, "color": "#1a1a1a"}, {"offset": 0.7286, "color": "#1a1a1a"}, {"offset": 0.7286, "color": "#ffffff"}, {"offset": 0.8283, "color": "#ffffff"}, {"offset": 0.8283, "color": "#1a1a1a"}, {"offset": 0.8943, "color": "#1a1a1a"}, {"offset": 0.8943, "color": "#ffffff"}, {"offset": 0.9939, "color": "#ffffff"}, {"offset": 0.9939, "color": "#1a1a1a"}, {"offset": 1, "color": "#1a1a1a"}]}}, "encoding": {"y": {"datum": 5}, "y2": {"datum": 6}}},
     {"transform": [{"filter": "datum.hatched >= 7"}], "mark": {"type": "bar", "orient": "vertical", "width": 14.21, "fill": {"gradient": "linear", "x1": 0, "y1": 1, "x2": 1.2007, "y2": 0.4051, "stops": [{"offset": 0, "color": "#1a1a1a"}, {"offset": 0.066, "color": "#1a1a1a"}, {"offset": 0.066, "color": "#ffffff"}, {"offset": 0.1657, "color": "#ffffff"}, {"offset": 0.1657, "color": "#1a1a1a"}, {"offset": 0.2317, "color": "#1a1a1a"}, {"offset": 0.2317, "color": "#ffffff"}, {"offset": 0.3313, "color": "#ffffff"}, {"offset": 0.3313, "color": "#1a1a1a"}, {"offset": 0.3973, "color": "#1a1a1a"}, {"offset": 0.3973, "color": "#ffffff"}, {"offset": 0.497, "color": "#ffffff"}, {"offset": 0.497, "color": "#1a1a1a"}, {"offset": 0.563, "color": "#1a1a1a"}, {"offset": 0.563, "color": "#ffffff"}, {"offset": 0.6626, "color": "#ffffff"}, {"offset": 0.6626, "color": "#1a1a1a"}, {"offset": 0.7286, "color": "#1a1a1a"}, {"offset": 0.7286, "color": "#ffffff"}, {"offset": 0.8283, "color": "#ffffff"}, {"offset": 0.8283, "color": "#1a1a1a"}, {"offset": 0.8943, "color": "#1a1a1a"}, {"offset": 0.8943, "color": "#ffffff"}, {"offset": 0.9939, "color": "#ffffff"}, {"offset": 0.9939, "color": "#1a1a1a"}, {"offset": 1, "color": "#1a1a1a"}]}}, "encoding": {"y": {"datum": 6}, "y2": {"datum": 7}}},
     {"transform": [{"filter": "datum.hatched > 0"}],
      "mark": {"type": "bar", "orient": "vertical", "width": 14.21, "filled": false, "stroke": "black", "strokeWidth": 1.7},
      "encoding": {
        "x": {"field": "wk", "type": "quantitative", "scale": {"domain": [0.5, 38.5], "nice": false, "zero": false},
          "axis": {"orient": "bottom", "values": [2.77, 8.04, 12.03, 16.21, 20.47, 24.51, 29.34, 33.84],
            "labelExpr": "datum.value < 5 ? 'Jan.' : datum.value < 10 ? 'Feb.' : datum.value < 14 ? 'Mar.' : datum.value < 18.5 ? 'Apr.' : datum.value < 22.5 ? 'May' : datum.value < 27 ? 'June' : datum.value < 31.5 ? 'July' : 'Aug.'",
            "ticks": false, "tickSize": 0, "domain": false, "labelPadding": 32, "labelAngle": 0, "labelAlign": "center", "labelBaseline": "middle", "labelFontSize": 14, "title": null}},
        "y": {"field": "hatched", "type": "quantitative"},
        "y2": {"datum": 0}}}
   ],
   "resolve": {"axis": {"x": "independent"}}},
  {"width": 540, "height": 188,
   "data": {"values": [
     {"line": 1, "text": "Fig. 3. Histograms showing weekly first isolations of salmonellae over the period"},
     {"line": 2, "text": "January to August 1959. A, refers to first isolations from patients of salmonellae other"},
     {"line": 3, "text": "than S. typhimurium, phage-type 27. B, refers only to first isolations from patients of"},
     {"line": 4, "text": "S. typhimurium, phage-type 27. C, refers to first isolations from the staff of S. typhi-"},
     {"line": 5, "text": "murium,\u00a0\u00a0\u00a0 phage-type\u00a0\u00a0\u00a0 27.\u00a0\u00a0\u00a0 \u2610 = symptomless\u00a0\u00a0\u00a0 excreters.\u00a0\u00a0\u00a0 \u25a7 = excreters\u00a0\u00a0\u00a0 with"},
     {"line": 6, "text": "symptoms."}]},
   "mark": {"type": "text", "align": "left", "baseline": "middle", "font": "Liberation Serif", "fontSize": 19.3},
   "encoding": {"x": {"datum": 0, "type": "quantitative", "scale": {"domain": [0, 1], "range": [-34.5, 635.5]}, "axis": null},
     "y": {"field": "line", "type": "ordinal", "scale": {"type": "point", "domain": [0, 1, 2, 3, 4, 5, 6], "padding": 1, "align": 0.847}, "axis": null},
     "text": {"field": "text"}}},
  {"width": 540, "height": 36.6,
   "data": {"values": [{"text": "* These figures refer to specimens examined at the Postgraduate Medical School."}]},
   "mark": {"type": "text", "align": "left", "baseline": "middle", "font": "Liberation Serif", "fontSize": 17.5},
   "encoding": {"x": {"datum": 0, "type": "quantitative", "scale": {"domain": [0, 1], "range": [-12.5, 635.5]}, "axis": null},
     "text": {"field": "text"}}}
]
}
